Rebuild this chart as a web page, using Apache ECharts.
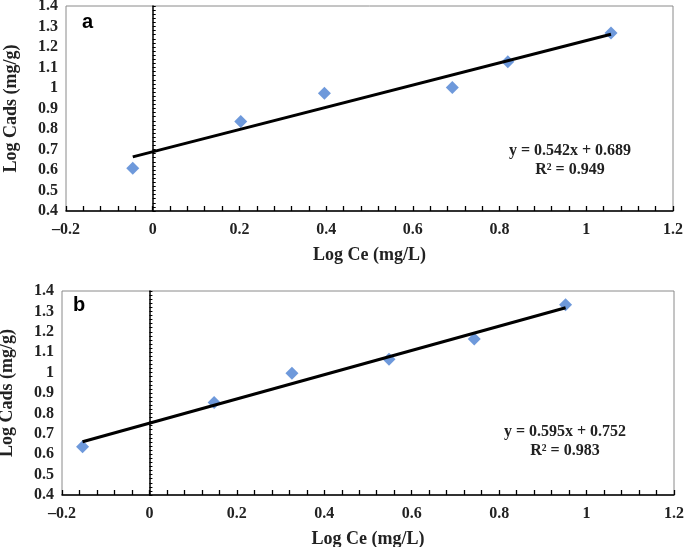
<!DOCTYPE html>
<html><head><meta charset="utf-8">
<script src="https://cdn.jsdelivr.net/npm/echarts@6/dist/echarts.min.js"></script>
<style>html,body{margin:0;padding:0;background:#fff}#c{width:685px;height:547px}</style>
</head><body><div id="c"></div>
<script>
// Panel a data
const logCeA = [-0.046, 0.203, 0.396, 0.691, 0.819, 1.057];
const logCadsA = [0.608, 0.836, 0.974, 1.002, 1.128, 1.268];
const trendXA = [-0.046, 1.057];
const trendYA = [0.664, 1.262];
// Panel b data
const logCeB = [-0.153, 0.148, 0.326, 0.548, 0.743, 0.952];
const logCadsB = [0.637, 0.854, 0.997, 1.065, 1.165, 1.333];
const trendXB = [-0.153, 0.952];
const trendYB = [0.661, 1.318];
// Axis ranges / ticks
const xTicks = [-0.2, 0, 0.2, 0.4, 0.6, 0.8, 1, 1.2];
const yTicks = [0.4, 0.5, 0.6, 0.7, 0.8, 0.9, 1, 1.1, 1.2, 1.3, 1.4];
const eqA = ['y = 0.542x + 0.689', 'R\u00B2 = 0.949'];
const eqB = ['y = 0.595x + 0.752', 'R\u00B2 = 0.983'];
const panelLabels = ['a', 'b'];
const xTitle = 'Log Ce (mg/L)';
const yTitle = 'Log Cads (mg/g)';

const serif = 'Liberation Serif';
const pair = (xs, ys) => xs.map((x, i) => [x, ys[i]]);

function xAxisFor(gi) {
  return {
    type: 'value', gridIndex: gi, min: xTicks[0], max: xTicks[xTicks.length - 1], interval: 0.2,
    name: xTitle, nameLocation: 'middle', nameGap: 35,
    nameTextStyle: { fontFamily: serif, fontWeight: 'bold', fontSize: 18, color: '#222' },
    axisLine: { onZero: false, lineStyle: { color: '#000', width: 1.5 } },
    axisTick: { inside: true, length: 5, lineStyle: { color: '#000', width: 1.3 } },
    minorTick: { show: true, splitNumber: 5, length: 5, lineStyle: { color: '#000', width: 1.3 } },
    splitLine: { show: false },
    axisLabel: { fontFamily: serif, fontWeight: 'bold', fontSize: 16, color: '#222', margin: 11,
      formatter: v => v < 0 ? '\u2013' + String(+Math.abs(v).toFixed(1)) : String(+v.toFixed(1)) }
  };
}
function yAxesFor(gi) {
  return [{
    type: 'value', gridIndex: gi, min: yTicks[0], max: yTicks[yTicks.length - 1], interval: 0.1, position: 'left',
    name: yTitle, nameLocation: 'middle', nameGap: 46, nameRotate: 90,
    nameTextStyle: { fontFamily: serif, fontWeight: 'bold', fontSize: 18, color: '#222' },
    axisLine: { show: false, onZero: false }, axisTick: { show: false }, splitLine: { show: false },
    axisLabel: { fontFamily: serif, fontWeight: 'bold', fontSize: 16, color: '#222', margin: 8,
      formatter: v => String(+v.toFixed(1)) }
  }, {
    type: 'value', gridIndex: gi, min: yTicks[0], max: yTicks[yTicks.length - 1], interval: 0.1, position: 'left',
    axisLine: { show: true, onZero: true, lineStyle: { color: '#000', width: 1.5 } },
    axisTick: { show: true, inside: true, length: 3, lineStyle: { color: '#000', width: 1 } },
    minorTick: { show: true, splitNumber: 5, length: 3, lineStyle: { color: '#000', width: 1 } },
    axisLabel: { show: false }, splitLine: { show: false }
  }];
}
const gridStyle = { show: true, borderColor: '#8a8a8a', borderWidth: 1, backgroundColor: 'transparent',
  containLabel: false, outerBoundsMode: 'none' };
const markerColor = '#4a80d2';

function scatter(xi, yi, data) {
  return { type: 'scatter', xAxisIndex: xi, yAxisIndex: yi, data, symbol: 'diamond', symbolSize: [13, 13],
    itemStyle: { color: markerColor }, z: 3 };
}
function trend(xi, yi, data) {
  return { type: 'line', xAxisIndex: xi, yAxisIndex: yi, data, symbol: 'none',
    lineStyle: { color: '#000', width: 3 }, z: 4 };
}
const eqStyle = { fontFamily: serif, fontWeight: 'bold', fontSize: 16, fill: '#222', textAlign: 'center', textVerticalAlign: 'middle' };
const lblStyle = { fontFamily: 'Liberation Sans', fontWeight: 'bold', fontSize: 20, fill: '#000', textVerticalAlign: 'middle' };

const chart = echarts.init(document.getElementById('c'));
chart.setOption({
  backgroundColor: '#fff',
  animation: false,
  grid: [
    Object.assign({ left: 66, top: 6, width: 607, height: 205 }, gridStyle),
    Object.assign({ left: 62, top: 291, width: 612, height: 204 }, gridStyle)
  ],
  xAxis: [xAxisFor(0), xAxisFor(1)],
  yAxis: [...yAxesFor(0), ...yAxesFor(1)],
  series: [
    trend(0, 0, pair(trendXA, trendYA)),
    scatter(0, 0, pair(logCeA, logCadsA)),
    trend(1, 2, pair(trendXB, trendYB)),
    scatter(1, 2, pair(logCeB, logCadsB))
  ],
  graphic: [
    { type: 'text', x: 82, y: 22, style: Object.assign({ text: panelLabels[0] }, lblStyle) },
    { type: 'text', x: 73, y: 305, style: Object.assign({ text: panelLabels[1] }, lblStyle) },
    { type: 'text', x: 570, y: 151, style: Object.assign({ text: eqA[0] }, eqStyle) },
    { type: 'text', x: 570, y: 170, style: Object.assign({ text: eqA[1] }, eqStyle) },
    { type: 'text', x: 565, y: 432, style: Object.assign({ text: eqB[0] }, eqStyle) },
    { type: 'text', x: 565, y: 451, style: Object.assign({ text: eqB[1] }, eqStyle) }
  ]
});
</script></body></html>
